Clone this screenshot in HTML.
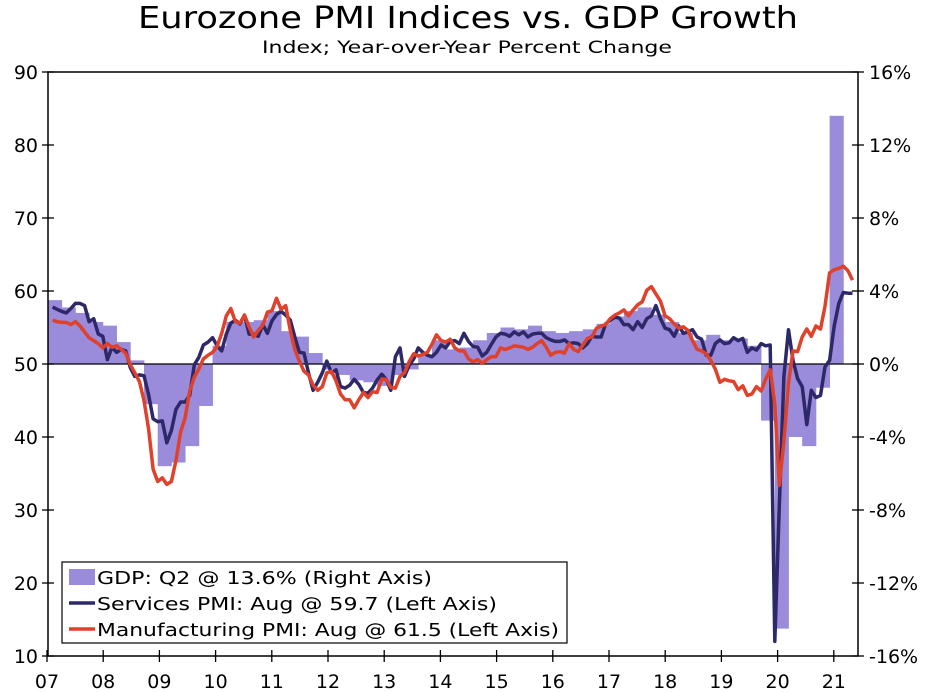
<!DOCTYPE html>
<html><head><meta charset="utf-8"><style>
html,body{margin:0;padding:0;background:#fff;}
svg{display:block;font-family:"DejaVu Sans","Liberation Sans",sans-serif;}
</style></head><body>
<svg id="chart" width="937" height="692" viewBox="0 0 937 692">
<text x="468" y="28" font-size="30" text-anchor="middle" textLength="660" lengthAdjust="spacingAndGlyphs">Eurozone PMI Indices vs. GDP Growth</text>
<text x="467" y="53" font-size="17" text-anchor="middle" textLength="410" lengthAdjust="spacingAndGlyphs">Index; Year-over-Year Percent Change</text>
<g id="bars"></g>
<line x1="48" y1="364" x2="858" y2="364" stroke="#000" stroke-width="1.3"/>
<g id="lines"></g>
<rect x="48" y="72" width="810" height="584" fill="none" stroke="#000" stroke-width="1.5"/>
<g id="axes"></g>
<g>
<rect x="62" y="562" width="505" height="81" fill="#fff" stroke="#000" stroke-width="1.2"/>
<rect x="69" y="569" width="26" height="16" fill="#9a8bdb"/>
<text x="97" y="584" font-size="18" textLength="335" lengthAdjust="spacingAndGlyphs">GDP: Q2 @ 13.6% (Right Axis)</text>
<line x1="69" y1="603" x2="95" y2="603" stroke="#2d2868" stroke-width="3.5"/>
<text x="97" y="610" font-size="18" textLength="400" lengthAdjust="spacingAndGlyphs">Services PMI: Aug @ 59.7 (Left Axis)</text>
<line x1="69" y1="629" x2="95" y2="629" stroke="#e0412a" stroke-width="3.5"/>
<text x="97" y="636" font-size="18" textLength="462" lengthAdjust="spacingAndGlyphs">Manufacturing PMI: Aug @ 61.5 (Left Axis)</text>
</g>
</svg>
<script>
const years = ["07","08","09","10","11","12","13","14","15","16","17","18","19","20","21"];
const leftTicks = [10,20,30,40,50,60,70,80,90];
const rightTicks = [-16,-12,-8,-4,0,4,8,12,16];
const gdp = [3.5,3.1,2.8,2.3, 2.1,1.2,0.2,-2.2, -5.6,-5.4,-4.5,-2.3,
  1.0,2.3,2.3,2.4, 2.9,1.8,1.5,0.6, -0.3,-0.6,-0.9,-1.0,
  -1.2,-0.6,-0.3,0.5, 1.3,0.8,0.9,1.3, 1.7,2.0,1.9,2.1,
  1.8,1.7,1.8,1.9, 2.2,2.6,2.9,3.1, 2.7,2.3,1.7,1.3,
  1.6,1.3,1.4,1.0, -3.1,-14.5,-4.0,-4.5, -1.3,13.6];
const services = [57.8,57.5,57.2,57.0,57.6,58.3,58.3,58.0,55.8,56.2,54.1,53.8,
  50.6,52.3,51.6,52.0,51.8,49.5,48.3,48.5,48.4,45.8,42.5,42.1,
  42.2,39.2,40.9,43.8,44.8,44.8,45.7,49.9,50.9,52.6,53.0,53.6,
  52.5,51.8,54.1,55.6,56.0,55.5,56.7,54.1,54.1,53.8,55.4,54.2,
  55.9,56.8,57.2,56.7,56.0,53.7,51.6,51.5,48.8,46.4,47.5,48.8,
  50.4,48.8,49.2,46.9,46.7,47.1,47.9,47.2,46.1,46.0,46.7,47.8,
  48.6,47.9,46.4,51.0,52.2,48.3,49.8,50.7,52.2,51.6,51.2,51.0,
  51.6,52.6,52.2,53.1,53.2,52.8,54.2,53.1,52.4,52.3,51.1,51.6,
  52.7,53.7,54.2,54.1,53.8,54.4,54.0,54.4,53.7,54.1,54.2,54.2,
  53.6,53.3,53.1,53.1,53.3,52.8,52.9,52.8,52.2,52.8,53.8,53.7,
  53.7,55.5,56.0,56.4,56.3,55.4,55.4,54.7,55.8,55.0,56.2,56.6,
  58.0,56.2,54.9,54.7,53.8,55.2,54.2,54.4,54.7,53.7,53.4,51.2,
  51.2,52.8,53.3,52.8,52.9,53.6,53.2,53.5,51.6,52.2,51.9,52.8,
  52.5,52.6,12.0,30.5,48.3,54.7,50.5,48.0,46.9,41.7,46.4,45.4,
  45.7,49.6,50.5,55.2,58.3,59.8,59.7,59.7];
const manufacturing = [56.0,55.8,55.7,55.7,55.4,55.8,55.2,54.4,53.6,53.2,52.8,52.2,
  52.8,52.3,52.5,52.0,51.5,49.9,48.8,47.6,45.0,41.1,35.6,33.9,
  34.4,33.5,33.9,36.8,40.7,42.6,46.3,48.2,49.3,50.7,51.2,51.6,
  52.4,54.2,56.6,57.6,55.8,55.6,56.7,55.1,53.7,54.6,55.3,57.1,
  57.3,59.0,57.5,58.0,54.6,52.0,50.4,49.0,48.5,47.1,46.4,46.9,
  48.8,49.0,47.7,45.9,45.1,45.1,44.0,45.1,46.1,45.4,46.2,46.1,
  47.9,47.9,46.8,46.7,48.3,48.8,50.3,51.4,51.1,51.3,51.6,52.7,
  54.0,53.2,53.0,53.4,52.2,51.8,51.8,50.7,50.3,50.6,50.1,50.6,
  51.0,51.0,52.2,52.0,52.2,52.5,52.4,52.3,52.0,52.3,52.8,53.2,
  52.3,51.2,51.6,51.7,51.5,52.8,52.0,51.7,52.6,53.5,53.7,54.9,
  55.2,55.4,56.2,56.7,57.0,57.4,56.6,57.4,58.1,58.5,60.1,60.6,
  59.6,58.6,56.6,56.2,55.5,54.9,55.1,54.6,53.2,52.0,51.8,51.4,
  50.5,49.3,47.5,47.9,47.7,47.6,46.5,47.0,45.7,45.9,46.9,46.3,
  47.9,49.2,44.5,33.4,39.4,47.4,51.8,51.7,53.7,54.8,53.8,55.2,
  54.8,57.9,62.5,62.9,63.1,63.4,62.8,61.5];

const NS='http://www.w3.org/2000/svg';
const X0=48, YW=54.85;
const xT = t => X0 + (t-2007)*YW;
const xLab = i => 47 + i*56.2;
const yL = v => 364 - (v-50)*7.3;
const yR = p => 364 - p*18.25;
function mk(tag, attrs, parent){const e=document.createElementNS(NS,tag);for(const k in attrs)e.setAttribute(k,attrs[k]);parent.appendChild(e);return e;}

const bars=document.getElementById('bars');
gdp.forEach((g,i)=>{
  const x1=xT(2007+i*0.25), x2=xT(2007+(i+1)*0.25);
  const r=mk('rect',{x:x1,y:Math.min(yR(g),364),width:x2-x1+0.4,height:Math.abs(yR(g)-364),fill:'#9a8bdb'},bars);
  
  
});

const lines=document.getElementById('lines');
function drawLine(arr,color,name){
  const pts=arr.map((v,i)=>xT(2007+(i+1)/12).toFixed(1)+','+yL(v).toFixed(1)).join(' ');
  const p=mk('polyline',{points:pts,fill:'none',stroke:color,'stroke-width':3.5,'stroke-linejoin':'round'},lines);
  
  
}
drawLine(services,'#2d2868','services-pmi-line');
drawLine(manufacturing,'#e0412a','manufacturing-pmi-line');

const ax=document.getElementById('axes');
leftTicks.forEach(v=>{
  const y=yL(v);
  const l=mk('line',{x1:42,x2:54,y1:y,y2:y,stroke:'#000','stroke-width':1.3},ax);
  
  
  const t=mk('text',{x:38,y:y+7,'font-size':19,'text-anchor':'end'},ax);
  t.textContent=v;
  
  
});
rightTicks.forEach(p=>{
  const y=yR(p);
  const l=mk('line',{x1:852,x2:864,y1:y,y2:y,stroke:'#000','stroke-width':1.3},ax);
  
  
  const t=mk('text',{x:869,y:y+7,'font-size':19},ax);
  t.textContent=p+'%';
  
  
});
years.forEach((yr,i)=>{
  const x=xLab(i);
  const l=mk('line',{x1:x,x2:x,y1:650,y2:662,stroke:'#000','stroke-width':1.3},ax);
  
  
  const t=mk('text',{x:x,y:688,'font-size':19,'text-anchor':'middle'},ax);
  t.textContent=yr;
  
  
});
</script>
</body></html>
